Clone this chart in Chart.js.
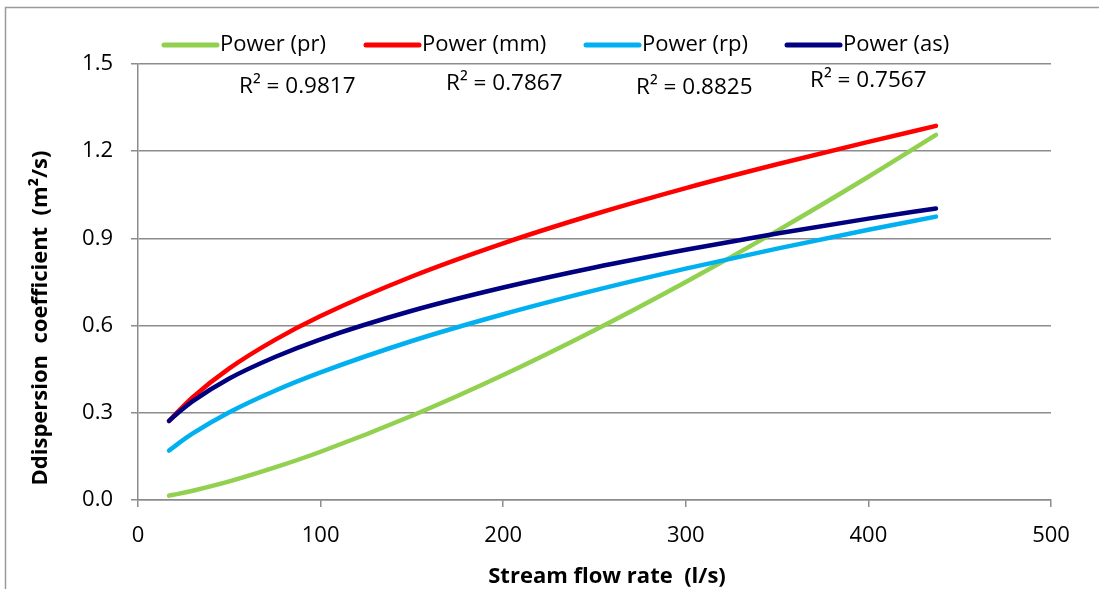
<!DOCTYPE html>
<html>
<head>
<meta charset="utf-8">
<script src="https://cdn.jsdelivr.net/npm/chart.js@4/dist/chart.umd.min.js"></script>
<style>
html,body{margin:0;padding:0;background:#fff;}
canvas{display:block;}
</style>
</head>
<body>
<canvas id="c" width="1099" height="589"></canvas>
<script>
// ---- data ----
const flowRate = [17, 22, 30, 50, 75, 100, 150, 200, 250, 300, 350, 400, 437];
const powerPr  = [0.015, 0.021, 0.032, 0.064, 0.112, 0.166, 0.290, 0.430, 0.584, 0.750, 0.926, 1.112, 1.256];
const powerMm  = [0.272, 0.305, 0.354, 0.453, 0.551, 0.633, 0.769, 0.883, 0.983, 1.073, 1.155, 1.232, 1.287];
const powerRp  = [0.170, 0.194, 0.229, 0.302, 0.376, 0.439, 0.547, 0.639, 0.721, 0.796, 0.865, 0.930, 0.975];
const powerAs  = [0.272, 0.300, 0.340, 0.418, 0.492, 0.553, 0.651, 0.731, 0.800, 0.861, 0.917, 0.968, 1.003];
const seriesLabels = ['Power (pr)', 'Power (mm)', 'Power (rp)', 'Power (as)'];
const seriesColors = ['#92D050', '#FF0000', '#00B0F0', '#000080'];
const rSquared = ['0.9817', '0.7867', '0.8825', '0.7567'];
const xTitle = 'Stream flow rate  (l/s)';
const yTitle = 'Ddispersion  coefficient  (m\u00B2/s)';

const FONT = "'Open Sans', sans-serif";
const GRID = '#8c8c8c';

function pts(ys){ return flowRate.map((x,i)=>({x:x, y:ys[i]})); }
const allSeries = [powerPr, powerMm, powerRp, powerAs];

const datasets = allSeries.map((ys,i)=>({
  label: seriesLabels[i],
  data: pts(ys),
  borderColor: seriesColors[i],
  backgroundColor: seriesColors[i],
  borderWidth: 4.5,
  borderCapStyle: 'round',
  pointRadius: 0,
  cubicInterpolationMode: 'monotone',
  fill: false,
  order: 4 - i
}));

// legend / annotation layout (style only)
const legendPos = [{line:[164,217], text:220}, {line:[366,419], text:422}, {line:[586,639], text:642}, {line:[787,840], text:843}];
const legendY = 45;
const r2Pos = [{x:239,y:87},{x:446,y:84},{x:636,y:88},{x:810,y:81}];

const decor = {
  id: 'decor',
  beforeDraw(chart){
    const ctx = chart.ctx;
    ctx.save();
    ctx.strokeStyle = '#9a9a9a';
    ctx.lineWidth = 1.5;
    ctx.beginPath();
    ctx.moveTo(5.5, 589);
    ctx.lineTo(5.5, 7.5);
    ctx.lineTo(1099, 7.5);
    ctx.stroke();
    ctx.restore();
  },
  afterDraw(chart){
    const ctx = chart.ctx;
    ctx.save();
    // legend
    ctx.font = '22px ' + FONT;
    ctx.textBaseline = 'middle';
    ctx.fillStyle = '#000';
    chart.data.datasets.forEach((ds,i)=>{
      const p = legendPos[i];
      ctx.strokeStyle = ds.borderColor;
      ctx.lineWidth = 5;
      ctx.lineCap = 'round';
      ctx.beginPath();
      ctx.moveTo(p.line[0], legendY);
      ctx.lineTo(p.line[1], legendY);
      ctx.stroke();
      ctx.fillText(ds.label, p.text, legendY);
    });
    // R² labels
    ctx.font = '22.5px ' + FONT;
    rSquared.forEach((r,i)=>{
      ctx.fillText('R\u00B2 = ' + r, r2Pos[i].x, r2Pos[i].y);
    });
    // axis titles
    ctx.font = 'bold 22px ' + FONT;
    ctx.textAlign = 'center';
    ctx.fillText(xTitle, 607, 577);
    ctx.translate(41, 318);
    ctx.rotate(-Math.PI/2);
    ctx.fillText(yTitle, 0, 0);
    ctx.restore();
  }
};

new Chart(document.getElementById('c'), {
  type: 'line',
  data: { datasets },
  options: {
    responsive: false,
    animation: false,
    devicePixelRatio: 1,
    layout: { padding: { top: 64, right: 48, left: 0, bottom: 0 } },
    plugins: { legend: { display: false }, tooltip: { enabled: false } },
    scales: {
      x: {
        type: 'linear', min: 0, max: 500,
        ticks: { stepSize: 100, color: '#000', font: { family: FONT, size: 22 }, padding: 16 },
        grid: { drawOnChartArea: false, drawTicks: true, tickLength: 7, color: GRID, lineWidth: 1.5 },
        border: { display: true, color: GRID, width: 1.5 },
        afterFit(s){ s.height = 89; }
      },
      y: {
        type: 'linear', min: 0, max: 1.5,
        ticks: { stepSize: 0.3, color: '#000', font: { family: FONT, size: 22 }, padding: 18,
                 callback: v => Number(v).toFixed(1) },
        grid: { color: GRID, lineWidth: 1.5, tickLength: 7 },
        border: { display: true, color: GRID, width: 1.5 },
        afterFit(s){ s.width = 138; }
      }
    }
  },
  plugins: [decor]
});
</script>
</body>
</html>
